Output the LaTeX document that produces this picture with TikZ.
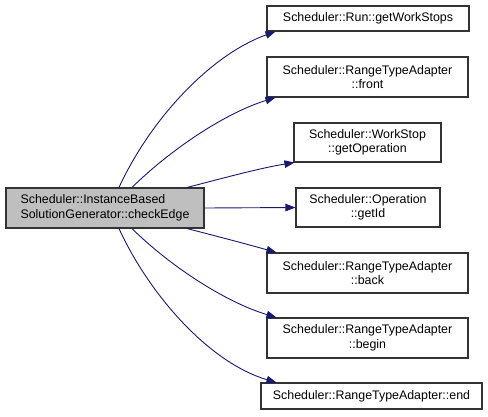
\documentclass[tikz,border=0pt]{standalone}
\usepackage{fontspec}
\setmainfont{Liberation Sans}
\usetikzlibrary{arrows.meta}
\definecolor{edgecol}{HTML}{191970}
\definecolor{mainfill}{HTML}{BFBFBF}
\begin{document}
\begin{tikzpicture}[x=1pt,y=-1pt,
  box/.style={draw=black!80,line width=1.1pt,fill=white,inner sep=0pt,align=center,
    font=\fontsize{12.4}{14.5}\selectfont},
  mainbox/.style={box,fill=mainfill,align=left},
  edge/.style={draw=edgecol,line width=0.9pt,-{Triangle[length=10pt,width=7.5pt]}}]
\useasboundingbox (0,0) rectangle (488,416);
\node[mainbox,minimum width=198pt,minimum height=40pt] (main) at (105,208)
  {Scheduler::InstanceBased\\SolutionGenerator::checkEdge};
\node[box,minimum width=202pt,minimum height=25pt] (a) at (368,18.5) {Scheduler::Run::getWorkStops};
\node[box,minimum width=201pt,minimum height=40pt] (b) at (367.5,77) {Scheduler::RangeTypeAdapter\\::front};
\node[box,minimum width=147pt,minimum height=39pt] (c) at (367.5,142.5) {Scheduler::WorkStop\\::getOperation};
\node[box,minimum width=144pt,minimum height=39pt] (d) at (368,207.5) {Scheduler::Operation\\::getId};
\node[box,minimum width=201pt,minimum height=40pt] (e) at (367.5,273) {Scheduler::RangeTypeAdapter\\::back};
\node[box,minimum width=201pt,minimum height=40pt] (f) at (367.5,338) {Scheduler::RangeTypeAdapter\\::begin};
\node[box,minimum width=221pt,minimum height=26pt] (g) at (371.5,396) {Scheduler::RangeTypeAdapter::end};
\draw[edge] ([xshift=14pt]main.north) .. controls (150,120) and (210,55) .. ([xshift=9pt]a.south west);
\draw[edge] ([xshift=27pt]main.north) .. controls (170,150) and (225,113) .. ([xshift=9pt]b.south west);
\draw[edge] ([xshift=82pt]main.north) .. controls (220,179) and (260,168) .. ([xshift=1pt]c.south west);
\draw[edge] (main.east) -- (d.west);
\draw[edge] ([xshift=82pt]main.south) .. controls (220,237) and (250,245) .. ([xshift=10pt]e.north west);
\draw[edge] ([xshift=27pt]main.south) .. controls (170,266) and (225,302) .. ([xshift=10pt]f.north west);
\draw[edge] ([xshift=14pt]main.south) .. controls (150,296) and (210,363) .. ([xshift=16pt]g.north west);
\end{tikzpicture}
\end{document}
